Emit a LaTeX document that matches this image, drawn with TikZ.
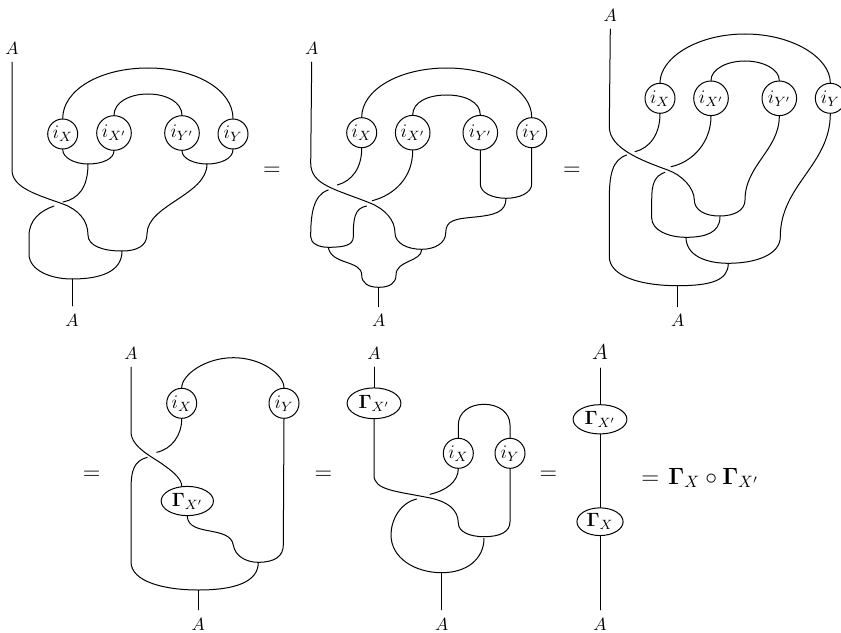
\RequirePackage{fix-cm}
\documentclass[tikz,border=0pt]{standalone}
\usetikzlibrary{shapes.geometric}
\newcommand{\szA}{\fontsize{11.5}{14}\selectfont}
\newcommand{\szB}{\fontsize{12.5}{15}\selectfont}
\newcommand{\szC}{\fontsize{14}{17}\selectfont}
\newcommand{\szE}{\fontsize{15}{18}\selectfont}
\newcommand{\szD}{\fontsize{15.3}{18}\selectfont}
\tikzset{
  strand/.style={line width=0.65pt,line cap=round},
  box/.style={circle,draw,line width=0.65pt,inner sep=0pt,minimum size=19.5pt,font=\szB},
  boxw/.style={circle,draw,line width=0.65pt,inner sep=0pt,minimum size=22.5pt,font=\szB},
  gam/.style={ellipse,draw,line width=0.65pt,inner sep=0pt,font=\szB},
  lab/.style={inner sep=5pt,font=\szA},
  labbig/.style={inner sep=5.5pt,font=\szC},
  eqn/.style={inner sep=0pt,font=\szE},
  eqnb/.style={inner sep=0pt,font=\szD}
}
\begin{document}
\begin{tikzpicture}[x=0.65pt,y=-0.65pt]
\useasboundingbox (0,0) rectangle (841,632);
% ---------- diagram 1
\node[lab] (a1t) at (12,48) {$A$};
\node[lab] (a1b) at (72,320) {$A$};
\node[box]  (a1x) at (62.7,134) {$i_X$};
\node[boxw] (a1w) at (114,133) {$i_{X'}$};
\node[boxw] (a1v) at (182,133) {$i_{Y'}$};
\node[box]  (a1y) at (233,134) {$i_Y$};
\coordinate (a1j) at (88,164);
\coordinate (a1k) at (207,164);
\coordinate (a1c) at (122,251);
\coordinate (a1d) at (72,279);
\draw[strand] (a1t.south) -- (12,170) .. controls (12,188) and (38,195) .. (63,204) .. controls (78,209.5) and (88,220) .. (88,235) .. controls (88,246) and (103,251) .. (a1c) .. controls (137,251) and (147,246) .. (147,234) .. controls (147,205) and (207,195) .. (a1k);
\draw[strand] (a1x.north) .. controls (62.7,90) and (100,68) .. (148,68) .. controls (196,68) and (233,90) .. (a1y.north);
\draw[strand] (a1w.north) .. controls (114,102) and (130,94) .. (148,94) .. controls (166,94) and (182,102) .. (a1v.north);
\draw[strand] (a1x.south) .. controls (62.7,158) and (75,164) .. (a1j) .. controls (102,164) and (114,159) .. (a1w.south);
\draw[strand] (a1v.south) .. controls (182,159) and (195,164) .. (a1k) .. controls (220,164) and (233,159) .. (a1y.south);
\draw[strand] (a1j) .. controls (88,188) and (78,199) .. (63,202);
\draw[strand] (54,206) .. controls (40,211) and (29,220) .. (29,236) -- (29,254) .. controls (29,270) and (50,279) .. (a1d) .. controls (100,279) and (122,272) .. (a1c);
\draw[strand] (a1d) -- (a1b.north);
\node[eqn] (e1) at (272,171) {$=$};
% ---------- diagram 2
\node[lab] (a2t) at (311.7,48) {$A$};
\node[lab] (a2b) at (378.7,320.7) {$A$};
\node[box]  (a2x) at (361.7,132.7) {$i_X$};
\node[boxw] (a2w) at (412.7,132.7) {$i_{X'}$};
\node[boxw] (a2v) at (480.3,132.7) {$i_{Y'}$};
\node[box]  (a2y) at (531.7,132.7) {$i_Y$};
\coordinate (a2k) at (506,198.3);
\coordinate (a2c) at (421.7,249.3);
\coordinate (a2l) at (328.3,247.3);
\coordinate (a2d) at (378.7,287.3);
\draw[strand] (a2t.south) -- (310.7,163) .. controls (310.7,185) and (335,189) .. (370,203) .. controls (385,209) and (395,220) .. (395,233) .. controls (395,243) and (407,249.3) .. (a2c) .. controls (435,249.3) and (445.7,243) .. (445.7,233) .. controls (445.7,220) and (455,219) .. (475,217) .. controls (495,215) and (506,212) .. (a2k);
\draw[strand] (a2x.north) .. controls (361.7,90) and (399,68) .. (446.7,68) .. controls (494,68) and (531.7,90) .. (a2y.north);
\draw[strand] (a2w.north) .. controls (412.7,102) and (428,95) .. (446.7,95) .. controls (465,95) and (480.3,102) .. (a2v.north);
\draw[strand] (a2x.south) .. controls (361.7,168) and (352,181) .. (337.3,185);
\draw[strand] (a2w.south) .. controls (412.7,178) and (394,195) .. (372.3,200.7);
\draw[strand] (a2v.south) -- (480.3,184) .. controls (480.3,193) and (493,198.3) .. (a2k) .. controls (519,198.3) and (531.7,193) .. (531.7,184) -- (a2y.south);
\draw[strand] (328.3,190) .. controls (313,195) and (310.7,215) .. (310.7,236.7) .. controls (310.7,243) and (318,247.3) .. (a2l) .. controls (345,247.3) and (353.3,245) .. (353.3,236.7) .. controls (353.3,220) and (354,208) .. (366.7,206);
\draw[strand] (a2l) .. controls (331,265) and (361.7,260) .. (361.7,275) .. controls (361.7,283) and (368,287.3) .. (a2d) .. controls (390,287.3) and (396,283) .. (396,275) .. controls (396,260) and (421.7,262) .. (a2c);
\draw[strand] (a2d) -- (a2b.north);
\node[eqn] (e2) at (572,171) {$=$};
% ---------- diagram 3
\node[lab] (a3t) at (610.3,15) {$A$};
\node[lab] (a3b) at (677.7,320.7) {$A$};
\node[box]  (a3x) at (660,98.3) {$i_X$};
\node[boxw] (a3w) at (711,98.3) {$i_{X'}$};
\node[boxw] (a3v) at (779.3,98.3) {$i_{Y'}$};
\node[box]  (a3y) at (830.3,98.3) {$i_Y$};
\coordinate (a3c) at (720,216.7);
\coordinate (a3e) at (686,237.3);
\coordinate (a3f) at (728.3,263.3);
\coordinate (a3d) at (677.7,285.7);
\draw[strand] (a3t.south) -- (609.3,126.7) .. controls (609.3,148) and (640,160) .. (667.7,170) .. controls (682,175) and (694.3,188) .. (694.3,200) .. controls (694.3,210) and (705,216) .. (719.3,216) .. controls (735,216) and (745,210) .. (745,200) .. controls (745,165) and (779.3,150) .. (a3v.south);
\draw[strand] (a3x.north) .. controls (660,58) and (697,34) .. (745,34) .. controls (793,34) and (830.3,58) .. (a3y.north);
\draw[strand] (a3w.north) .. controls (711,69) and (727,61) .. (745,61) .. controls (763,61) and (779.3,69) .. (a3v.north);
\draw[strand] (a3x.south) .. controls (660,134) and (650,148) .. (635,151.7);
\draw[strand] (a3w.south) .. controls (711,142) and (693,162) .. (671,166.7);
\draw[strand] (a3y.south) .. controls (830.3,165) and (780.3,185) .. (780.3,236.7) .. controls (780.3,255) and (755,263.3) .. (a3f) .. controls (705,263.3) and (686,255) .. (a3e);
\draw[strand] (626.7,155) .. controls (612,160) and (609.3,175) .. (609.3,200) -- (609.3,256.7) .. controls (609.3,276) and (640,285.7) .. (a3d) .. controls (712,285.7) and (728.3,280) .. (a3f);
\draw[strand] (665,172.3) .. controls (654,176) and (651.7,185) .. (651.7,200) -- (651.7,218) .. controls (651.7,230) and (668,237.3) .. (a3e) .. controls (705,237.3) and (720,233) .. (a3c);
\draw[strand] (a3d) -- (a3b.north);
% ---------- diagram 4
\node[eqn] (e3) at (91.7,475) {$=$};
\node[lab] (a4t) at (131,353) {$A$};
\node[lab] (a4b) at (198.3,624) {$A$};
\node[box] (a4x) at (181.7,403.3) {$i_X$};
\node[box] (a4y) at (284,403.3) {$i_Y$};
\node[gam,minimum width=34pt,minimum height=19pt] (a4g) at (187.3,501) {$\mathbf{\Gamma}_{X'}$};
\coordinate (a4c) at (258.3,562.3);
\coordinate (a4d) at (198.3,590);
\draw[strand] (a4t.south) -- (131,431.7) .. controls (131,448) and (155,458) .. (165,466) .. controls (175,473) and (181.7,480) .. (a4g.north -| a4x);
\draw[strand] (a4x.north) .. controls (181.7,375) and (205,357.7) .. (233.3,357.7) .. controls (262,357.7) and (284,375) .. (a4y.north);
\draw[strand] (a4x.south) .. controls (181.7,435) and (172,449) .. (156.7,452.3);
\draw[strand] (147.3,457.3) .. controls (134,461) and (131,470) .. (131,490) -- (131,561.7) .. controls (131,582) and (165,590) .. (a4d) .. controls (235,590) and (258.3,582) .. (a4c);
\draw[strand] (a4g.south) .. controls (188,537) and (230,525) .. (233.3,545) .. controls (235,556) and (246,562.3) .. (a4c) .. controls (275,562.3) and (283.3,556) .. (283.3,545) -- (a4y.south);
\draw[strand] (a4d) -- (a4b.north);
\node[eqn] (e4) at (323.3,475) {$=$};
% ---------- diagram 5
\node[lab] (a5t) at (374,353) {$A$};
\node[lab] (a5b) at (441.7,624) {$A$};
\node[gam,minimum width=35pt,minimum height=20pt] (a5g) at (374,403.3) {$\mathbf{\Gamma}_{X'}$};
\node[box] (a5x) at (458.3,453.3) {$i_X$};
\node[box] (a5y) at (510,453.3) {$i_Y$};
\coordinate (a5c) at (484,536.7);
\coordinate (a5d) at (441.7,572.7);
\draw[strand] (a5t.south) -- (a5g.north);
\draw[strand] (a5g.south) -- (374,475) .. controls (374,490) and (395,491) .. (426.7,497.3) .. controls (448,501) and (458.3,510) .. (458.3,523) .. controls (458.3,532) and (470,536.7) .. (a5c) .. controls (500,536.7) and (510,532) .. (510,521.7) -- (a5y.south);
\draw[strand] (a5x.north) -- (458.3,425) .. controls (458.3,412) and (470,404.3) .. (484,404.3) .. controls (498,404.3) and (510,412) .. (510,425) -- (a5y.north);
\draw[strand] (a5x.south) .. controls (458.3,482) and (445,491) .. (430,494.3);
\draw[strand] (416.7,499) .. controls (400,503) and (391,520) .. (391,535) .. controls (391,558) and (415,572.7) .. (a5d) .. controls (468,572.7) and (484,558) .. (484,538.3);
\draw[strand] (a5d) -- (a5b.north);
\node[eqn] (e5) at (548.3,475) {$=$};
% ---------- diagram 6
\node[labbig] (a6t) at (600,352) {$A$};
\node[lab] (a6b) at (600,624) {$A$};
\node[gam,minimum width=35pt,minimum height=19pt] (a6g) at (600,419.3) {$\mathbf{\Gamma}_{X'}$};
\node[gam,minimum width=30pt,minimum height=18pt] (a6h) at (600,521.7) {$\mathbf{\Gamma}_{X}$};
\draw[strand] (a6t.south) -- (a6g.north);
\draw[strand] (a6g.south) -- (a6h.north);
\draw[strand] (a6h.south) -- (a6b.north);
\node[eqnb,anchor=west] (e6) at (641,478) {$=\mkern2mu\mathbf{\Gamma}_X\circ\mathbf{\Gamma}_{X'}$};
\end{tikzpicture}
\end{document}
